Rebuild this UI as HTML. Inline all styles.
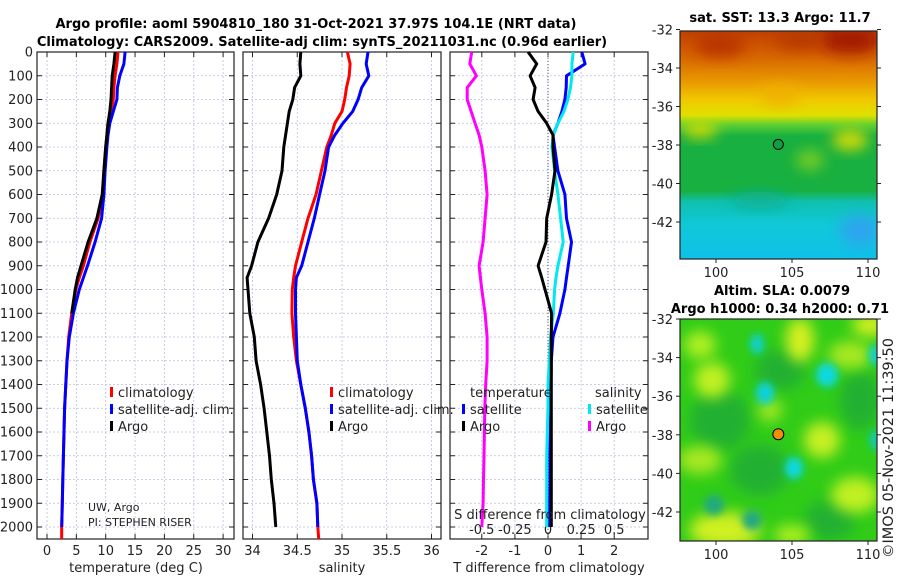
<!DOCTYPE html>
<html><head><meta charset="utf-8"><style>
html,body{margin:0;padding:0;background:#fff;}
svg{display:block;font-family:"DejaVu Sans","Liberation Sans",sans-serif;}
</style></head><body>
<svg id="c" width="900" height="580" viewBox="0 0 900 580" xmlns="http://www.w3.org/2000/svg">
<defs>
<linearGradient id="sstg" x1="0" y1="0" x2="0" y2="1">
<stop offset="0" stop-color="#c04000"/><stop offset="0.12" stop-color="#d86800"/><stop offset="0.22" stop-color="#e89800"/>
<stop offset="0.3" stop-color="#f0c800"/><stop offset="0.37" stop-color="#e0e000"/><stop offset="0.41" stop-color="#60d030"/>
<stop offset="0.46" stop-color="#18b040"/><stop offset="0.7" stop-color="#18b040"/><stop offset="0.75" stop-color="#10c0b0"/>
<stop offset="0.85" stop-color="#10c8d8"/><stop offset="1" stop-color="#10c0e8"/>
</linearGradient>
<filter id="blur6" x="-50%" y="-50%" width="200%" height="200%"><feGaussianBlur stdDeviation="7"/></filter>
<filter id="blur4" x="-50%" y="-50%" width="200%" height="200%"><feGaussianBlur stdDeviation="4"/></filter>
<clipPath id="clipSST"><rect x="680" y="31" width="197" height="228"/></clipPath>
<clipPath id="clipSLA"><rect x="680" y="319" width="197" height="222"/></clipPath>
</defs>
<g id="root"></g>
</svg>
<script>
// ---- profile data (depth in m) ----
const depths    = [0,50,100,150,200,250,300,350,400,500,600,700,800,900,950,1000,1100,1200,1300,1400,1500,1600,1700,1800,1900,2000];
const tempClim  = [12.1,11.9,11.6,11.4,11.3,10.9,10.4,10.2,10.0,9.7,9.5,8.7,7.3,6.2,5.5,4.9,4.2,3.7,3.4,3.2,3.0,2.9,2.8,2.7,2.6,2.5];
const tempSat   = [13.3,13.1,12.4,12.0,11.9,11.3,10.7,10.4,10.2,9.9,9.7,9.3,8.2,6.9,6.2,5.5,4.5,3.8,3.4,3.2,3.0,2.9,2.8,2.7,2.6,2.5];
const tempArgo  = [11.6,11.4,11.1,11.0,10.9,10.7,10.4,10.2,10.0,9.7,9.4,8.5,7.0,5.8,5.2,4.8,4.2,3.7,3.4,3.2,3.0,2.9,2.8,2.7,2.6,2.6];
const salClim   = [35.06,35.09,35.08,35.05,35.03,35.0,34.92,34.88,34.83,34.77,34.71,34.62,34.55,34.48,34.46,34.445,34.44,34.46,34.49,34.54,34.59,34.63,34.66,34.68,34.72,34.73];
const salSat    = [35.29,35.27,35.3,35.22,35.18,35.12,35.01,34.92,34.85,34.81,34.75,34.69,34.62,34.55,34.49,34.48,34.48,34.49,34.5,34.54,34.59,34.63,34.66,34.68,34.72,34.73];
const salArgo   = [34.54,34.53,34.54,34.47,34.45,34.41,34.39,34.37,34.35,34.33,34.27,34.18,34.06,33.99,33.94,33.95,33.97,34.02,34.04,34.09,34.13,34.16,34.19,34.21,34.24,34.26];
const tdiffArgo = [-0.6,-0.34,-0.54,-0.39,-0.45,-0.3,-0.04,0.15,0.15,0.21,0.11,-0.04,-0.06,-0.3,-0.19,-0.09,0.11,0.1,0.1,0.1,0.1,0.1,0.1,0.1,0.1,0.1];
const tdiffSat  = [1.02,1.12,0.56,0.55,0.51,0.42,0.3,0.15,0.2,0.3,0.51,0.56,0.71,0.61,0.56,0.51,0.36,0.15,0.1,0.09,0.08,0.07,0.06,0.06,0.05,0.05];
const sdiffSat  = [0.19,0.18,0.18,0.17,0.15,0.12,0.075,0.04,0.03,0.05,0.075,0.095,0.115,0.075,0.06,0.05,0.04,0.02,0.01,0.0,0.0,-0.005,-0.01,-0.01,-0.01,-0.01];
const sdiffArgo = [-0.576,-0.59,-0.54,-0.61,-0.61,-0.58,-0.55,-0.52,-0.5,-0.475,-0.46,-0.475,-0.49,-0.52,-0.51,-0.5,-0.475,-0.46,-0.46,-0.47,-0.477,-0.48,-0.483,-0.487,-0.49,-0.5];
const depthTicks = [0,100,200,300,400,500,600,700,800,900,1000,1100,1200,1300,1400,1500,1600,1700,1800,1900,2000];
const tempTicks = [0,5,10,15,20,25,30];
const salTicks  = [34,34.5,35,35.5,36];
const salTickLabels = ["34","34.5","35","35.5","36"];
const tdTicks = [-2,-1,0,1,2];
const sdTicks = [-0.5,-0.25,0,0.25,0.5];
const sdTickLabels = ["-0.5","-0.25","0","0.25","0.5"];
const lats = [-32,-34,-36,-38,-40,-42];
const lons = [100,105,110];

const NS="http://www.w3.org/2000/svg";
const root=document.getElementById('root');
function mk(tag,attrs,parent){const e=document.createElementNS(NS,tag);for(const k in attrs)e.setAttribute(k,attrs[k]);(parent||root).appendChild(e);return e;}
function txt(x,y,s,attrs,parent){const e=mk('text',Object.assign({x:x,y:y},attrs||{}),parent);e.textContent=s;return e;}

const yTop=52, pxm=0.2375, yBot=539;
const yD=d=>yTop+d*pxm;
const panels=[
 {x0:37,x1:234,name:'temperature-panel',fx:t=>47+5.87*t},
 {x0:243,x1:441,name:'salinity-panel',fx:s=>252.5+(s-34)*89.5},
 {x0:450,x1:648,name:'difference-panel',fx:d=>548+33.1*d}
];
const fsd=s=>548+132.5*s;

panels.forEach((p,i)=>{
  const g=mk('g',{});
  
  
  const vt = i==0?tempTicks:(i==1?salTicks:tdTicks);
  depthTicks.forEach(d=>{const l=mk('line',{x1:p.x0,x2:p.x1,y1:yD(d),y2:yD(d),stroke:'#b8c0dc','stroke-width':0.8,'stroke-dasharray':'2,2'},g);
    
    mk('line',{x1:p.x0,x2:p.x0+5,y1:yD(d),y2:yD(d),stroke:'#222'},g);
    mk('line',{x1:p.x1-5,x2:p.x1,y1:yD(d),y2:yD(d),stroke:'#222'},g);});
  vt.forEach(v=>{const x=p.fx(v);const l=mk('line',{x1:x,x2:x,y1:yTop,y2:yBot,stroke:'#b8c0dc','stroke-width':0.8,'stroke-dasharray':'2,2'},g);
    
    mk('line',{x1:x,x2:x,y1:yTop,y2:yTop+5,stroke:'#222'},g);
    mk('line',{x1:x,x2:x,y1:yBot-5,y2:yBot,stroke:'#222'},g);});
  mk('rect',{x:p.x0,y:yTop,width:p.x1-p.x0,height:yBot-yTop,fill:'none',stroke:'#222','stroke-width':1.2},g);
});
depthTicks.forEach(d=>{const t=txt(33,yD(d)+4.5,String(d),{'font-size':13,'text-anchor':'end',fill:'#222'});
  });
tempTicks.forEach(v=>{const t=txt(panels[0].fx(v),555,String(v),{'font-size':13,'text-anchor':'middle',fill:'#222'});
  });
salTicks.forEach((v,i)=>{const t=txt(panels[1].fx(v),555,salTickLabels[i],{'font-size':13,'text-anchor':'middle',fill:'#222'});
  });
tdTicks.forEach(v=>{const t=txt(panels[2].fx(v),555,String(v),{'font-size':13,'text-anchor':'middle',fill:'#222'});
  });
sdTicks.forEach((v,i)=>{const t=txt(fsd(v),534,sdTickLabels[i],{'font-size':13,'text-anchor':'middle',fill:'#222'});
  });

const zl=mk('line',{x1:548,x2:548,y1:yTop,y2:yBot,stroke:'#556','stroke-width':1,'stroke-dasharray':'1,2'});


function series(vals,fx,color,name,n){
  const m=n||vals.length;
  let d='';for(let i=0;i<m;i++){d+=(i?'L':'M')+fx(vals[i]).toFixed(1)+','+yD(depths[i]).toFixed(1);}
  const e=mk('path',{d:d,fill:'none',stroke:color,'stroke-width':3,'stroke-linejoin':'round'});
  
  
}
series(tempClim,panels[0].fx,'#ff0000','temp-climatology-line');
mk('line',{x1:panels[0].fx(2.5),x2:panels[0].fx(2.5),y1:yD(2000),y2:yBot,stroke:'#ff0000','stroke-width':3});
series(tempSat,panels[0].fx,'#0000ff','temp-satellite-line');
series(tempArgo,panels[0].fx,'#000000','temp-argo-line',17);
series(salClim,panels[1].fx,'#ff0000','sal-climatology-line');
mk('line',{x1:panels[1].fx(34.73),x2:panels[1].fx(34.74),y1:yD(2000),y2:yBot,stroke:'#ff0000','stroke-width':3});
series(salSat,panels[1].fx,'#0000ff','sal-satellite-line');
series(salArgo,panels[1].fx,'#000000','sal-argo-line');
series(sdiffArgo,fsd,'#ff00ff','sdiff-argo-line');
series(tdiffSat,panels[2].fx,'#0000ff','tdiff-satellite-line');
series(sdiffSat,fsd,'#00e8f0','sdiff-satellite-line');
series(tdiffArgo,panels[2].fx,'#000000','tdiff-argo-line');

function legend(x,y,color,label,name){
  const g=mk('g',{});
  
  
  mk('rect',{x:x,y:y-10,width:3,height:10,fill:color},g);
  txt(x+8,y,label,{'font-size':13,fill:'#222'},g);
}
legend(110,397,'#ff0000','climatology','legend-climatology');
legend(110,414,'#0000ff','satellite-adj. clim.','legend-satellite');
legend(110,431,'#000000','Argo','legend-argo');
legend(330,397,'#ff0000','climatology','legend-sal-climatology');
legend(330,414,'#0000ff','satellite-adj. clim.','legend-sal-satellite');
legend(330,431,'#000000','Argo','legend-sal-argo');
txt(470,397,'temperature',{'font-size':13,fill:'#222'});
legend(462,414,'#0000ff','satellite','legend-tdiff-satellite');
legend(462,431,'#000000','Argo','legend-tdiff-argo');
txt(595,397,'salinity',{'font-size':13,fill:'#222'});
legend(588,414,'#00e8f0','satellite','legend-sdiff-satellite');
legend(588,431,'#ff00ff','Argo','legend-sdiff-argo');

txt(88,511,'UW, Argo',{'font-size':11,fill:'#222'});
txt(88,526,'PI: STEPHEN RISER',{'font-size':11,fill:'#222'});
txt(550,519,'S difference from climatology',{'font-size':13,'text-anchor':'middle',fill:'#222'});
[['temperature (deg C)',136],['salinity',342],['T difference from climatology',549]].forEach(a=>{
  const t=txt(a[1],572,a[0],{'font-size':13,'text-anchor':'middle',fill:'#222'});
  });
let t1=txt(316,28,'Argo profile: aoml 5904810_180 31-Oct-2021 37.97S 104.1E (NRT data)',{'font-size':13,'font-weight':'bold','text-anchor':'middle',fill:'#000'});

let t2=txt(322,46,'Climatology: CARS2009. Satellite-adj clim: synTS_20211031.nc (0.96d earlier)',{'font-size':13,'font-weight':'bold','text-anchor':'middle',fill:'#000'});


// ---- maps ----
const lonX=lo=>716+(lo-100)*15.2;
function mapAxes(y0,y1,latY,name){
  const g=mk('g',{});
  
  
  mk('rect',{x:680,y:y0,width:197,height:y1-y0,fill:'none',stroke:'#222','stroke-width':1.2},g);
  lats.forEach(la=>{const y=latY(la);mk('line',{x1:680,x2:676,y1:y,y2:y,stroke:'#222'},g);mk('line',{x1:877,x2:881,y1:y,y2:y,stroke:'#222'},g);
    txt(673,y+5,String(la),{'font-size':13,'text-anchor':'end',fill:'#222'},g);});
  lons.forEach(lo=>{const x=lonX(lo);mk('line',{x1:x,x2:x,y1:y1,y2:y1+4,stroke:'#222'},g);
    txt(x,y1+18,String(lo),{'font-size':13,'text-anchor':'middle',fill:'#222'},g);});
}
const sst=mk('g',{'clip-path':'url(#clipSST)'});


mk('rect',{x:680,y:31,width:197,height:228,fill:'url(#sstg)'},sst);
[[850,40,30,14,'#a01800'],[720,45,25,12,'#b83000'],[800,40,25,10,'#b83800'],[780,95,20,10,'#f0b000'],[700,130,18,8,'#e0e000'],[850,140,18,10,'#e8e000'],[810,160,14,10,'#80d020'],[860,230,20,15,'#30a0f0'],[760,200,30,8,'#10b090']].forEach(b=>{
  mk('ellipse',{cx:b[0],cy:b[1],rx:b[2],ry:b[3],fill:b[4],filter:'url(#blur6)',opacity:0.9},sst);});
const latY1=la=>68+(-34-la)*19.25;
mapAxes(31,259,latY1,'sst-map-axes');
const c1=mk('circle',{cx:lonX(104.1),cy:latY1(-37.97),r:5,fill:'#10a040',stroke:'#000','stroke-width':1});

txt(780,22,'sat. SST: 13.3 Argo: 11.7',{'font-size':13,'font-weight':'bold','text-anchor':'middle',fill:'#000'});

const sla=mk('g',{'clip-path':'url(#clipSLA)'});


const latY2=la=>319+(-32-la)*19.3;
mk('rect',{x:680,y:319,width:197,height:222,fill:'#30cc18'},sla);
[[720,420,30,30,'#20b030'],[760,470,30,25,'#20b030'],[830,520,25,20,'#20b030'],[860,400,20,30,'#20b030'],[780,370,25,20,'#20b030']].forEach(b=>{
  mk('ellipse',{cx:b[0],cy:b[1],rx:b[2],ry:b[3],fill:b[4],filter:'url(#blur6)'},sla);});
[[700,345,16,14,'#b0f020'],[712,380,18,18,'#c0f020'],[800,340,14,22,'#d8f020'],[870,325,18,12,'#d0f020'],[850,355,22,14,'#a8e820'],[700,460,22,14,'#a8e820'],[822,440,18,18,'#c8f020'],[855,495,24,18,'#c0f020'],[725,530,36,18,'#d0f020'],[770,410,12,12,'#a0e820'],[792,535,18,10,'#b0f020']].forEach(b=>{
  mk('ellipse',{cx:b[0],cy:b[1],rx:b[2],ry:b[3],fill:b[4],filter:'url(#blur6)'},sla);});
[[757,344,7,10,'#10d0d0'],[765,393,9,11,'#10d0e0'],[827,375,11,12,'#10d8e0'],[794,468,9,11,'#10d8e0'],[876,355,7,10,'#10d0d8'],[876,440,6,10,'#10c8c0'],[714,505,10,10,'#20a880'],[752,520,10,10,'#20a880']].forEach(b=>{
  mk('ellipse',{cx:b[0],cy:b[1],rx:b[2],ry:b[3],fill:b[4],filter:'url(#blur4)'},sla);});
mapAxes(319,541,latY2,'sla-map-axes');
const c2=mk('circle',{cx:lonX(104.1),cy:latY2(-37.97),r:5.5,fill:'#f09000',stroke:'#000','stroke-width':1});

txt(782,295,'Altim. SLA: 0.0079',{'font-size':13,'font-weight':'bold','text-anchor':'middle',fill:'#000'});
txt(780,313,'Argo h1000: 0.34 h2000: 0.71',{'font-size':13,'font-weight':'bold','text-anchor':'middle',fill:'#000'});
const cp=txt(0,0,'©IMOS 05-Nov-2021 11:39:50',{'font-size':14.5,'text-anchor':'middle',fill:'#222',transform:'translate(893,448) rotate(-90)'});

</script>
</body></html>
